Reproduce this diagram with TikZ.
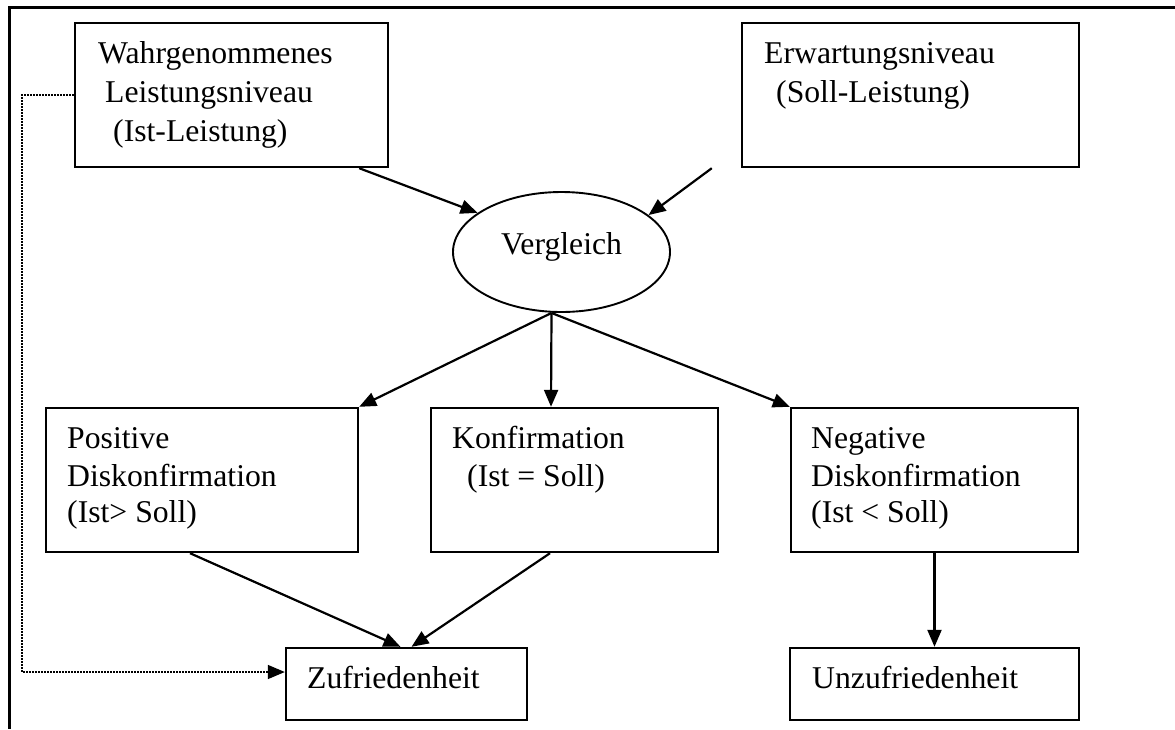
\documentclass[tikz,border=0pt]{standalone}
\usepackage{fontspec}
\setmainfont{Liberation Serif}
\usetikzlibrary{arrows.meta,shapes.geometric,calc}
\begin{document}
\begin{tikzpicture}[x=1pt,y=-1pt,
  box/.style={draw,line width=2.4pt,rectangle,inner sep=0pt},
  oval/.style={draw,line width=1.9pt,ellipse,inner sep=0pt},
  txt/.style={anchor=base west,inner sep=0pt,font=\fontsize{31.7}{38}\selectfont},
  conn/.style={line width=2.2pt,-{Triangle[length=17pt,width=14pt]}},
  dotconn/.style={line width=1.5pt,dash pattern=on 1.5pt off 1.5pt,-{Triangle[length=17pt,width=14pt]}},
  frame/.style={line width=3pt}]
\useasboundingbox (0,0) rectangle (1175,729);
% outer frame
\draw[frame] (1175,7) -- (9,7) -- (9,729);
% boxes
\node[box,minimum width=313pt,minimum height=144pt] (W) at (231.5,95) {};
\node[box,minimum width=337pt,minimum height=144pt] (E) at (910.5,95) {};
\node[oval,minimum width=217pt,minimum height=120pt] (V) at (561.5,252) {};
\node[box,minimum width=312pt,minimum height=144pt] (P) at (202,480) {};
\node[box,minimum width=287pt,minimum height=144pt] (K) at (574.5,480) {};
\node[box,minimum width=287pt,minimum height=144pt] (N) at (934.5,480) {};
\node[box,minimum width=241pt,minimum height=72pt] (Z) at (406.5,684) {};
\node[box,minimum width=289pt,minimum height=72pt] (U) at (934.5,684) {};
% texts
\node[txt] (w1) at (98,63) {Wahrgenommenes};
\node[txt] (w2) at (105,102) {Leistungsniveau};
\node[txt] (w3) at (113,141) {(Ist-Leistung)};
\node[txt] (e1) at (764,63) {Erwartungsniveau};
\node[txt] (e2) at (776,102) {(Soll-Leistung)};
\node[txt,anchor=base] (v1) at (561.5,254) {Vergleich};
\node[txt] (p1) at (67,448) {Positive};
\node[txt] (p2) at (67,486) {Diskonfirmation};
\node[txt] (p3) at (67,522) {(Ist> Soll)};
\node[txt] (k1) at (452,448) {Konfirmation};
\node[txt] (k2) at (467,486) {(Ist = Soll)};
\node[txt] (n1) at (811,448) {Negative};
\node[txt] (n2) at (811,486) {Diskonfirmation};
\node[txt] (n3) at (811,522) {(Ist < Soll)};
\node[txt] (z1) at (307,688) {Zufriedenheit};
\node[txt] (u1) at (812,688) {Unzufriedenheit};
% connectors
\draw[conn] ([xshift=-30pt]W.south east) -- (V.155);
\draw[conn] ([xshift=-29pt]E.south west) -- (V.23);
\draw[conn] ([xshift=-10pt]V.south) -- (P.north east);
\draw[conn] ([xshift=-10pt]V.south) -- ([xshift=-23.5pt]K.north);
\draw[conn] ([xshift=-10pt]V.south) -- (N.north west);
\draw[conn] ([xshift=-12pt]P.south) -- ([xshift=-6pt]Z.north);
\draw[conn] ([xshift=-24.5pt]K.south) -- ([xshift=5pt]Z.north);
\draw[conn] (N.south) -- (U.north);
% dotted feedback
\coordinate (d1) at (22,95);
\coordinate (d2) at (22,672);
\draw[dotconn] (W.west) -- (d1) -- (d2) -- (d2 -| Z.west);
\end{tikzpicture}
\end{document}
